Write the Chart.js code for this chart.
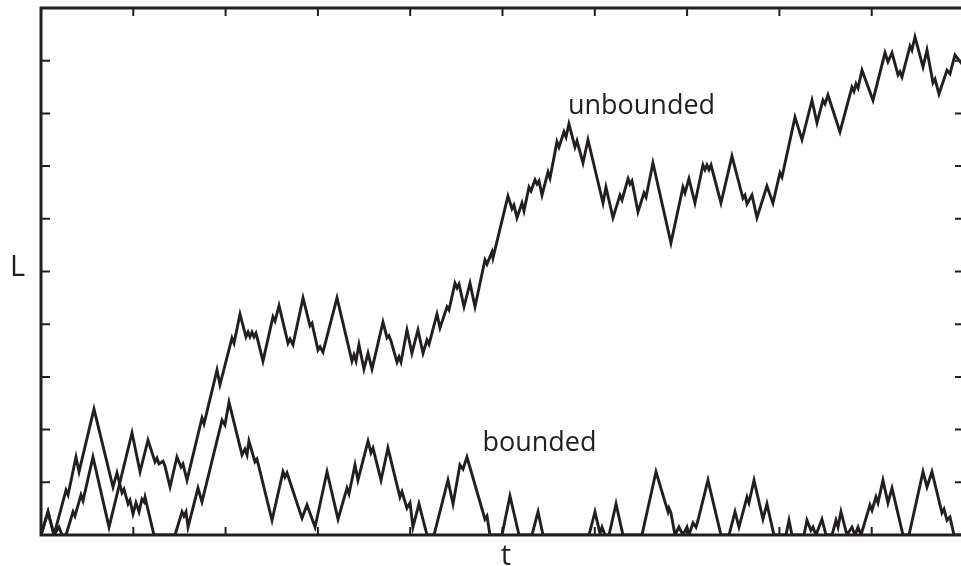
<!DOCTYPE html>
<html>
<head>
<meta charset="utf-8">
<title>Bounded and unbounded walk</title>
<script src="https://cdn.jsdelivr.net/npm/chart.js@4/dist/chart.umd.min.js"></script>
<style>
  html, body { margin: 0; padding: 0; background: #ffffff; overflow: hidden; }
  #wrap { width: 975px; height: 566px; }
</style>
</head>
<body>
<div id="wrap"><canvas id="walk" width="975" height="566"></canvas></div>
<script>
// Time axis (t) and length axis (L) of the two walks, in axis units.
const unboundedT = [0, 7.6, 14.1, 19.5, 22.8, 27.1, 34.7, 36.8, 43.3, 45.5, 56.3, 73.7, 98.6, 107.3, 115.9, 123.5, 125.7, 127.8, 132.2, 134.3, 139.8, 147.3, 151.7, 153.8, 158.2, 174.4, 176.6, 190.7, 193.9, 206.9, 209.1, 215.6, 222.1, 224.3, 226.4, 228.6, 230.8, 232.9, 234.0, 240.5, 251.3, 253.5, 257.9, 267.6, 269.8, 273.0, 283.9, 291.4, 293.6, 300.1, 302.3, 305.5, 320.7, 336.9, 339.1, 341.3, 344.5, 349.9, 354.3, 358.6, 370.5, 374.9, 377.0, 379.2, 385.7, 387.9, 390.0, 396.5, 401.9, 408.4, 413.9, 418.2, 420.4, 429.0, 432.3, 439.9, 442.0, 448.5, 450.7, 452.9, 458.3, 464.8, 470.2, 481.0, 483.2, 488.6, 489.7, 505.9, 510.3, 512.4, 515.7, 521.1, 523.3, 528.7, 530.9, 535.2, 537.4, 539.5, 542.8, 549.3, 551.5, 559.0, 561.2, 566.6, 568.8, 572.0, 578.5, 580.7, 587.2, 592.6, 608.9, 612.1, 619.7, 627.3, 629.5, 636.0, 638.1, 640.3, 646.8, 653.3, 655.5, 663.0, 682.5, 695.5, 697.7, 702.0, 708.5, 717.2, 719.4, 721.5, 723.7, 725.9, 736.7, 748.6, 760.5, 762.7, 764.9, 770.3, 775.7, 786.5, 793.0, 800.6, 802.8, 816.9, 824.5, 835.3, 840.7, 847.2, 849.4, 852.6, 865.6, 878.6, 880.8, 883.0, 885.2, 889.5, 901.4, 914.4, 917.6, 922.0, 928.5, 930.6, 932.8, 941.5, 943.6, 946.9, 955.6, 959.9, 966.4, 968.6, 972.9, 981.6, 984.8, 990.2, 1000];
const unboundedL = [0, 4.4, 0, 1.5, 0, 0, 4.4, 3.6, 7.6, 6.5, 14.8, 1.5, 19.4, 12.0, 18.0, 13.9, 14.6, 13.5, 14.0, 13.1, 9.1, 14.8, 12.9, 13.5, 10.4, 22.2, 21.1, 31.3, 28.5, 37.4, 36.4, 41.9, 37.6, 38.5, 37.6, 38.5, 37.6, 38.3, 37.6, 33.0, 41.4, 40.6, 43.5, 36.4, 37.2, 36.1, 45.0, 39.7, 40.2, 35.1, 35.7, 34.7, 45.0, 33.0, 34.2, 33.0, 36.1, 31.5, 34.5, 31.5, 40.4, 37.4, 37.8, 36.8, 32.8, 33.8, 32.8, 38.9, 34.5, 38.9, 34.5, 37.0, 36.2, 41.9, 39.3, 43.3, 42.7, 47.8, 46.9, 47.6, 43.3, 47.8, 43.3, 52.2, 51.4, 53.7, 52.6, 64.3, 61.9, 62.6, 60.2, 63.0, 61.5, 66.0, 65.3, 67.4, 66.6, 67.2, 64.5, 68.9, 67.7, 74.6, 73.6, 76.5, 75.5, 78.0, 73.6, 74.8, 70.6, 75.0, 63.0, 66.0, 60.2, 64.5, 63.6, 67.6, 66.6, 67.2, 61.3, 64.9, 64.1, 70.6, 55.4, 66.0, 64.9, 67.6, 63.0, 70.2, 69.3, 70.2, 69.3, 70.2, 63.0, 71.9, 63.9, 64.5, 62.8, 64.5, 60.2, 66.2, 63.0, 68.7, 67.9, 79.3, 75.0, 82.5, 78.2, 82.5, 81.8, 83.5, 76.5, 85.0, 84.2, 85.6, 84.8, 88.2, 82.5, 91.5, 89.8, 91.5, 87.3, 87.9, 86.9, 92.8, 92.0, 94.5, 88.8, 92.0, 85.8, 86.5, 83.7, 88.2, 87.5, 91.1, 88.9];

const boundedT = [0, 7.6, 14.1, 27.1, 29.3, 37.9, 41.2, 57.4, 78.0, 82.3, 87.8, 89.9, 94.3, 96.4, 99.7, 102.9, 106.2, 109.4, 111.6, 112.7, 122.4, 145.2, 152.8, 154.9, 157.1, 159.3, 170.1, 174.4, 196.1, 199.3, 203.7, 217.8, 221.0, 223.2, 225.3, 231.8, 234.0, 250.3, 262.2, 264.3, 266.5, 282.8, 288.2, 296.9, 309.9, 321.8, 331.5, 333.7, 340.2, 343.4, 354.3, 357.5, 359.7, 368.4, 375.9, 388.9, 391.1, 396.5, 399.8, 403.0, 409.5, 418.2, 425.8, 440.9, 446.4, 453.9, 457.2, 461.5, 481.0, 483.2, 486.4, 499.4, 508.1, 517.9, 531.9, 538.5, 543.9, 593.7, 600.2, 605.6, 607.8, 611.0, 615.4, 623.0, 630.5, 651.1, 666.3, 679.3, 680.4, 682.5, 686.9, 691.2, 695.5, 699.9, 702.0, 706.4, 709.6, 711.8, 722.6, 736.7, 745.4, 751.9, 756.2, 764.9, 767.0, 772.5, 782.2, 786.5, 794.1, 807.1, 810.4, 813.6, 826.6, 829.9, 834.2, 836.4, 839.6, 846.1, 850.5, 857.0, 861.3, 863.5, 866.7, 873.2, 878.6, 881.9, 885.2, 888.4, 898.1, 900.3, 904.6, 906.8, 912.2, 917.6, 922.0, 933.9, 940.4, 955.6, 959.9, 965.3, 976.1, 978.3, 981.6, 984.8, 989.2, 1000];
const boundedL = [0, 4.4, 0, 8.5, 7.6, 14.8, 12.0, 23.9, 9.1, 11.8, 8.0, 8.7, 5.9, 6.6, 4.0, 6.1, 4.4, 6.8, 6.3, 7.2, 0, 0, 4.4, 3.6, 4.4, 1.5, 8.9, 6.3, 21.8, 20.9, 25.2, 15.2, 16.3, 15.2, 17.8, 13.9, 14.4, 2.8, 12.0, 11.0, 11.8, 3.2, 5.7, 1.5, 12.0, 3.0, 8.9, 7.8, 13.3, 10.4, 17.8, 15.6, 16.5, 10.4, 16.5, 7.2, 8.2, 5.1, 6.1, 1.5, 5.9, 0, 0, 10.4, 5.9, 13.3, 12.5, 14.8, 3.0, 3.6, 0, 0, 7.4, 0, 0, 4.4, 0, 0, 4.4, 0.3, 1.5, 0, 0, 5.9, 0, 0, 12.0, 4.4, 5.1, 4.2, 0, 1.5, 0, 1.5, 0, 2.3, 1.5, 2.8, 10.4, 0, 0, 4.4, 1.5, 7.2, 6.1, 10.4, 3.0, 5.9, 0, 0, 2.8, 0, 0, 2.8, 0.9, 1.5, 0, 3.0, 0, 0, 2.8, 1.5, 4.4, 0, 1.5, 0, 1.5, 0, 5.7, 4.7, 7.2, 6.1, 10.4, 6.1, 8.9, 0, 0, 12.0, 9.1, 12.0, 4.2, 4.9, 2.8, 3.4, 0, 0];

// Curve names and where each name sits (t, L).
const seriesNames = ['unbounded', 'bounded'];
const nameT = [650.6, 540.1];
const nameL = [79.9, 15.9];

// Axis titles and tick spacing.
const axisTitles = ['t', 'L'];
const tLimits = [0, 1000];
const lLimits = [0, 100];
const tTickStep = 100;
const lTickStep = 10;

const INK = '#231f20';

function toPoints(ts, ls) {
  return ts.map((t, i) => ({ x: t, y: ls[i] }));
}

function tickValues(limits, step) {
  const out = [];
  for (let v = limits[0]; v <= limits[1] + 1e-9; v += step) out.push(v);
  return out;
}

// Closed frame with short inward ticks on all four sides, plus the text.
const framePlugin = {
  id: 'frameAndText',
  afterDatasetsDraw(chart) {
    const { ctx, chartArea: a, scales: { x, y } } = chart;
    ctx.save();
    ctx.strokeStyle = INK;
    ctx.lineCap = 'butt';
    ctx.lineWidth = 3;
    ctx.strokeRect(a.left, a.top, a.right - a.left, a.bottom - a.top);

    ctx.lineWidth = 2;
    ctx.beginPath();
    tickValues(tLimits, tTickStep).forEach(v => {
      const px = x.getPixelForValue(v);
      ctx.moveTo(px, a.bottom); ctx.lineTo(px, a.bottom - 8);
      ctx.moveTo(px, a.top);    ctx.lineTo(px, a.top + 8);
    });
    tickValues(lLimits, lTickStep).forEach(v => {
      const py = y.getPixelForValue(v);
      ctx.moveTo(a.left, py);  ctx.lineTo(a.left + 9, py);
      ctx.moveTo(a.right, py); ctx.lineTo(a.right - 9, py);
    });
    ctx.stroke();

    ctx.fillStyle = INK;
    ctx.textBaseline = 'alphabetic';
    ctx.textAlign = 'center';
    ctx.font = '27px "Open Sans"';
    seriesNames.forEach((name, i) => {
      ctx.fillText(name, x.getPixelForValue(nameT[i]), y.getPixelForValue(nameL[i]));
    });

    ctx.font = '29px "Open Sans"';
    ctx.fillText(axisTitles[0], x.getPixelForValue((tLimits[0] + tLimits[1]) / 2) + 3.5, a.bottom + 30);
    ctx.textAlign = 'left';
    ctx.fillText(axisTitles[1], a.left - 31, y.getPixelForValue((lLimits[0] + lLimits[1]) / 2) + 4);
    ctx.restore();
  }
};

const lineStyle = {
  borderColor: INK,
  borderWidth: 2.9,
  pointRadius: 0,
  tension: 0,
  fill: false,
  borderJoinStyle: 'miter'
};

new Chart(document.getElementById('walk'), {
  type: 'line',
  data: {
    datasets: [
      Object.assign({ label: seriesNames[0], data: toPoints(unboundedT, unboundedL) }, lineStyle),
      Object.assign({ label: seriesNames[1], data: toPoints(boundedT, boundedL) }, lineStyle)
    ]
  },
  options: {
    responsive: false,
    animation: false,
    layout: { padding: { left: 41, top: 8, right: 11, bottom: 31 } },
    plugins: { legend: { display: false }, tooltip: { enabled: false } },
    scales: {
      x: { type: 'linear', display: false, min: tLimits[0], max: tLimits[1] },
      y: { type: 'linear', display: false, min: lLimits[0], max: lLimits[1] }
    }
  },
  plugins: [framePlugin]
});
</script>
</body>
</html>
